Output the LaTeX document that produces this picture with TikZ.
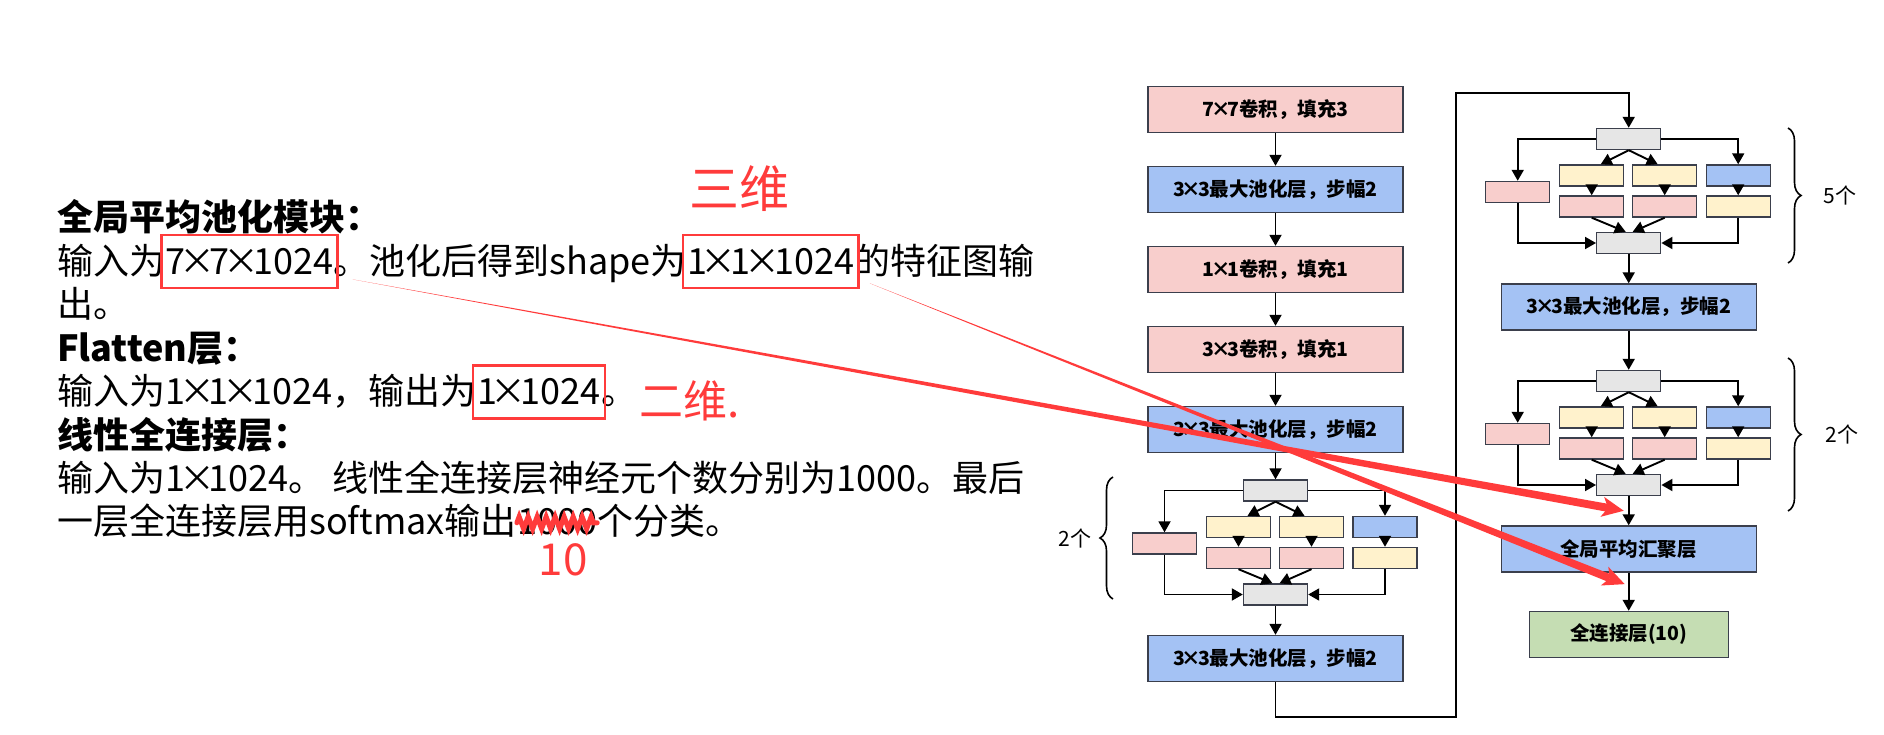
\documentclass[tikz,border=0pt]{standalone}
\usepackage{fontspec}
\setmainfont{Noto Sans CJK SC}
\newcommand{\tm}{\kern-.17em×\kern-.17em}
\usepackage{tikz}
\usetikzlibrary{arrows.meta,positioning,calc,fit,decorations.pathreplacing,decorations.pathmorphing}

\definecolor{convpink}{HTML}{F8CECC}
\definecolor{poolblue}{HTML}{A4C2F4}
\definecolor{pathyellow}{HTML}{FFF2CC}
\definecolor{catgray}{HTML}{E6E6E6}
\definecolor{fcgreen}{HTML}{C5DDB3}
\definecolor{boxline}{HTML}{3B3F4C}
\definecolor{penred}{HTML}{FF3B3B}

\begin{document}
\begin{tikzpicture}[
    x=1pt, y=-1pt,
    node distance=80pt,
    layer/.style={rectangle, draw=boxline, line width=1.4pt, minimum width=255pt, minimum height=46pt, inner sep=0pt, font=\fontsize{19.5}{19.5}\selectfont\bfseries},
    conv/.style={layer, fill=convpink},
    pool/.style={layer, fill=poolblue},
    fcbox/.style={layer, fill=fcgreen, minimum width=199pt},
    cell/.style={rectangle, draw=boxline, line width=1.4pt, minimum width=64pt, minimum height=21pt, inner sep=0pt},
    catcell/.style={cell, fill=catgray},
    pinkcell/.style={cell, fill=convpink},
    yellowcell/.style={cell, fill=pathyellow},
    bluecell/.style={cell, fill=poolblue},
    arrow/.style={line width=1.9pt, -{Triangle[length=11pt,width=12pt]}},
    brace/.style={line width=1.6pt, decorate, decoration={brace, amplitude=13pt}},
    reps/.style={inner sep=0pt, font=\fontsize{21}{21}\selectfont},
    txt/.style={anchor=base west, inner sep=0pt, font=\fontsize{36}{36}\selectfont},
    head/.style={txt, font=\fontsize{36}{36}\selectfont\bfseries},
    redbox/.style={draw=penred, line width=2.6pt, inner xsep=4pt, inner ysep=13pt},
    pen/.style={text=penred, inner sep=0pt}
]

\fill[white] (0,0) rectangle (1884,735);
\useasboundingbox (0,0) rectangle (1884,735);

% notes
\node[head] (h1) at (57,231) {全局平均池化模块：};
\node[txt] (l2a) at (57,274.4) {输入为};
\node[txt] (l2b) at (l2a.base east) {7\tm7\tm1024};
\node[txt] (l2c) at (l2b.base east) {。池化后得到shape为};
\node[txt] (l2d) at (l2c.base east) {1\tm1\tm1024};
\node[txt] (l2e) at (l2d.base east) {的特征图输};
\node[txt] (l3) at (57,317.8) {出。};
\node[head] (h2) at (57,361.2) {Flatten层：};
\node[txt] (l5a) at (57,404.6) {输入为1\tm1\tm1024，输出为};
\node[txt] (l5b) at (l5a.base east) {1\tm1024};
\node[txt] (l5c) at (l5b.base east) {。};
\node[head] (h3) at (57,448) {线性全连接层：};
\node[txt] (l7) at (57,491.4) {输入为1\tm1024。 线性全连接层神经元个数分别为1000。最后};
\node[txt] (l8a) at (57,534.8) {一层全连接层用softmax输出};
\node[txt] (l8b) at (l8a.base east) {1000};
\node[txt] (l8c) at (l8b.base east) {个分类。};

% red marks
\node[redbox, fit=(l2b)] (box1) {};
\node[redbox, fit=(l2d)] (box2) {};
\node[redbox, fit=(l5b)] (box3) {};
\node[pen, font=\fontsize{50}{50}\selectfont] (ann3d) at (739,189) {三维};
\node[pen, font=\fontsize{44}{44}\selectfont, right=2pt of l5c] (ann2d) {二维.};
\draw[penred, line width=5pt, line cap=round, decorate, decoration={zigzag, segment length=9pt, amplitude=6pt}] ([yshift=12pt]l8b.base west) -- ([yshift=12pt]l8b.base east);
\node[pen, font=\fontsize{44}{44}\selectfont, below=8pt of l8b, xshift=6pt] (ann10) {10};

% main column
\node[conv] (conv7) at (1275.5,109.5) {7\tm7卷积，填充3};
\node[pool, below of=conv7] (pool1) {3\tm3最大池化层，步幅2};
\node[conv, below of=pool1] (conv1) {1\tm1卷积，填充1};
\node[conv, below of=conv1] (conv3) {3\tm3卷积，填充1};
\node[pool, below of=conv3] (pool2) {3\tm3最大池化层，步幅2};

\node[catcell, below of=pool2, node distance=61pt] (i3top) {};
\node[pinkcell] (i3p1) at ([shift={(-111,53)}]i3top) {};
\node[yellowcell] (i3p2a) at ([shift={(-37,36.5)}]i3top) {};
\node[pinkcell] (i3p2b) at ([shift={(-37,67.5)}]i3top) {};
\node[yellowcell] (i3p3a) at ([shift={(36,36.5)}]i3top) {};
\node[pinkcell] (i3p3b) at ([shift={(36,67.5)}]i3top) {};
\node[bluecell] (i3p4a) at ([shift={(109.5,36.5)}]i3top) {};
\node[yellowcell] (i3p4b) at ([shift={(109.5,67.5)}]i3top) {};
\node[catcell] (i3bot) at ([shift={(0,104)}]i3top) {};
\node[pool, below of=i3bot, node distance=64pt] (pool3) {3\tm3最大池化层，步幅2};

% second column
\node[catcell] (i4top) at (1628.7,139) {};
\node[pinkcell] (i4p1) at ([shift={(-111,53)}]i4top) {};
\node[yellowcell] (i4p2a) at ([shift={(-37,36.5)}]i4top) {};
\node[pinkcell] (i4p2b) at ([shift={(-37,67.5)}]i4top) {};
\node[yellowcell] (i4p3a) at ([shift={(36,36.5)}]i4top) {};
\node[pinkcell] (i4p3b) at ([shift={(36,67.5)}]i4top) {};
\node[bluecell] (i4p4a) at ([shift={(109.5,36.5)}]i4top) {};
\node[yellowcell] (i4p4b) at ([shift={(109.5,67.5)}]i4top) {};
\node[catcell] (i4bot) at ([shift={(0,104)}]i4top) {};
\node[pool, below of=i4bot, node distance=64pt] (pool4) {3\tm3最大池化层，步幅2};

\node[catcell, below of=pool4, node distance=74pt] (i5top) {};
\node[pinkcell] (i5p1) at ([shift={(-111,53)}]i5top) {};
\node[yellowcell] (i5p2a) at ([shift={(-37,36.5)}]i5top) {};
\node[pinkcell] (i5p2b) at ([shift={(-37,67.5)}]i5top) {};
\node[yellowcell] (i5p3a) at ([shift={(36,36.5)}]i5top) {};
\node[pinkcell] (i5p3b) at ([shift={(36,67.5)}]i5top) {};
\node[bluecell] (i5p4a) at ([shift={(109.5,36.5)}]i5top) {};
\node[yellowcell] (i5p4b) at ([shift={(109.5,67.5)}]i5top) {};
\node[catcell] (i5bot) at ([shift={(0,104)}]i5top) {};
\node[pool, below of=i5bot, node distance=64pt] (gap) {全局平均汇聚层};
\node[fcbox, below of=gap, node distance=85.5pt] (fc) {全连接层(10)};

% main flow
\draw[arrow] (conv7) -- (pool1);
\draw[arrow] (pool1) -- (conv1);
\draw[arrow] (conv1) -- (conv3);
\draw[arrow] (conv3) -- (pool2);
\draw[arrow] (pool2) -- (i3top);
\draw[arrow] (i3bot) -- (pool3);
\coordinate (turnA) at (1455.7,717);
\coordinate (turnB) at (1455.7,93);
\draw[arrow] (pool3.south) |- (turnA) -- (turnB) -| (i4top.north);
\draw[arrow] (i4bot) -- (pool4);
\draw[arrow] (pool4) -- (i5top);
\draw[arrow] (i5bot) -- (gap);
\draw[arrow] (gap) -- (fc);

% inside the modules
\draw[arrow] (i3top.west) -| (i3p1.north);
\draw[arrow] (i3top.east) -| (i3p4a.north);
\draw[arrow] (i3top.south) -- ([xshift=9pt]i3p2a.north);
\draw[arrow] (i3top.south) -- ([xshift=-7pt]i3p3a.north);
\draw[arrow] (i3p2a) -- (i3p2b);
\draw[arrow] (i3p3a) -- (i3p3b);
\draw[arrow] (i3p4a) -- (i3p4b);
\draw[arrow] (i3p2b.south) -- ([xshift=-3pt]i3bot.north);
\draw[arrow] (i3p3b.south) -- ([xshift=4pt]i3bot.north);
\draw[arrow] (i3p1.south) |- (i3bot.west);
\draw[arrow] (i3p4b.south) |- (i3bot.east);

\draw[arrow] (i4top.west) -| (i4p1.north);
\draw[arrow] (i4top.east) -| (i4p4a.north);
\draw[arrow] (i4top.south) -- ([xshift=9pt]i4p2a.north);
\draw[arrow] (i4top.south) -- ([xshift=-7pt]i4p3a.north);
\draw[arrow] (i4p2a) -- (i4p2b);
\draw[arrow] (i4p3a) -- (i4p3b);
\draw[arrow] (i4p4a) -- (i4p4b);
\draw[arrow] (i4p2b.south) -- ([xshift=-3pt]i4bot.north);
\draw[arrow] (i4p3b.south) -- ([xshift=4pt]i4bot.north);
\draw[arrow] (i4p1.south) |- (i4bot.west);
\draw[arrow] (i4p4b.south) |- (i4bot.east);

\draw[arrow] (i5top.west) -| (i5p1.north);
\draw[arrow] (i5top.east) -| (i5p4a.north);
\draw[arrow] (i5top.south) -- ([xshift=9pt]i5p2a.north);
\draw[arrow] (i5top.south) -- ([xshift=-7pt]i5p3a.north);
\draw[arrow] (i5p2a) -- (i5p2b);
\draw[arrow] (i5p3a) -- (i5p3b);
\draw[arrow] (i5p4a) -- (i5p4b);
\draw[arrow] (i5p2b.south) -- ([xshift=-3pt]i5bot.north);
\draw[arrow] (i5p3b.south) -- ([xshift=4pt]i5bot.north);
\draw[arrow] (i5p1.south) |- (i5bot.west);
\draw[arrow] (i5p4b.south) |- (i5bot.east);

% repeat counts
\coordinate (br3a) at (1113,599);
\coordinate (br3b) at (1113,477);
\draw[brace] (br3a) -- (br3b) node[reps, midway, left=21pt] (n3) {2个};
\coordinate (br4a) at (1788,128);
\coordinate (br4b) at (1788,263);
\draw[brace] (br4a) -- (br4b) node[reps, midway, right=35pt] (n4) {5个};
\coordinate (br5a) at (1788,358);
\coordinate (br5b) at (1788,511);
\draw[brace] (br5a) -- (br5b) node[reps, midway, right=37pt] (n5) {2个};

% red arrows
\coordinate (startA) at ($(box1.south east)+(14,-10)$);
\coordinate (tipA) at ($(i5bot.south)!0.5!(gap.north)+(-5,0)$);
\coordinate (baseA) at ($(tipA)!16pt!(startA)$);
\fill[penred] (startA) -- ($(baseA)!4pt!90:(startA)$) -- ($(baseA)!4pt!-90:(startA)$) -- cycle;
\fill[penred] (tipA) -- ($(tipA)!24pt!25:(startA)$) -- (baseA) -- ($(tipA)!24pt!-25:(startA)$) -- cycle;

\coordinate (startB) at ($(box2.south east)+(10,-6)$);
\coordinate (tipB) at ($(gap.south)!0.3!(fc.north)+(-4,0)$);
\coordinate (baseB) at ($(tipB)!16pt!(startB)$);
\fill[penred] (startB) -- ($(baseB)!4pt!90:(startB)$) -- ($(baseB)!4pt!-90:(startB)$) -- cycle;
\fill[penred] (tipB) -- ($(tipB)!24pt!25:(startB)$) -- (baseB) -- ($(tipB)!24pt!-25:(startB)$) -- cycle;

\end{tikzpicture}
\end{document}
